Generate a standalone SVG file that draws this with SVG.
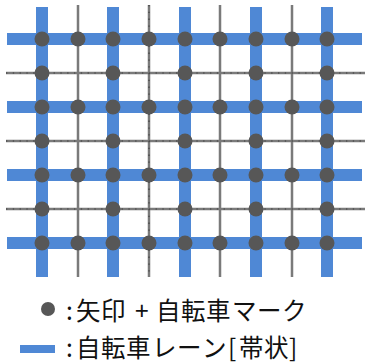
<svg xmlns="http://www.w3.org/2000/svg" width="368" height="363" viewBox="0 0 368 363">
<style>
.g{stroke:#7a7a7a;stroke-width:2.5;fill:none}
.k{stroke:#222;stroke-width:1.1;stroke-dasharray:1.3 5.5;fill:none;opacity:.7}
.b{stroke:#4f88d5;stroke-width:12;fill:none}
.d{fill:#575757}
.t{font-family:"Noto Sans CJK JP","Noto Sans",sans-serif;font-size:24.5px;fill:#111}
</style>
<rect width="368" height="363" fill="#fff"/>
<g id="gray-lines">
<path class="g" d="M78 5V277M149 5V277M220 5V277M292 5V277M6 73H365M6 141H365M6 209H365"/>
<path class="k" d="M149 5V277M6 73H365M6 141H365M6 209H365"/>
</g>
<g id="bike-lanes">
<path class="b" d="M42 7V277M113 7V277M185 7V277M256 7V277M327 7V277M7 39H362M7 107H362M7 175H362M7 243H362"/>
</g>
<g id="marks" class="d">
<g id="row39"><circle cx="42" cy="39" r="7.5"/><circle cx="78" cy="39" r="7.5"/><circle cx="113" cy="39" r="7.5"/><circle cx="149" cy="39" r="7.5"/><circle cx="185" cy="39" r="7.5"/><circle cx="220" cy="39" r="7.5"/><circle cx="256" cy="39" r="7.5"/><circle cx="292" cy="39" r="7.5"/><circle cx="327" cy="39" r="7.5"/></g>
<g id="row73"><circle cx="42" cy="73" r="7.5"/><circle cx="113" cy="73" r="7.5"/><circle cx="185" cy="73" r="7.5"/><circle cx="256" cy="73" r="7.5"/><circle cx="327" cy="73" r="7.5"/></g>
<g id="row107"><circle cx="42" cy="107" r="7.5"/><circle cx="78" cy="107" r="7.5"/><circle cx="113" cy="107" r="7.5"/><circle cx="149" cy="107" r="7.5"/><circle cx="185" cy="107" r="7.5"/><circle cx="220" cy="107" r="7.5"/><circle cx="256" cy="107" r="7.5"/><circle cx="292" cy="107" r="7.5"/><circle cx="327" cy="107" r="7.5"/></g>
<g id="row141"><circle cx="42" cy="141" r="7.5"/><circle cx="113" cy="141" r="7.5"/><circle cx="185" cy="141" r="7.5"/><circle cx="256" cy="141" r="7.5"/><circle cx="327" cy="141" r="7.5"/></g>
<g id="row175"><circle cx="42" cy="175" r="7.5"/><circle cx="78" cy="175" r="7.5"/><circle cx="113" cy="175" r="7.5"/><circle cx="149" cy="175" r="7.5"/><circle cx="185" cy="175" r="7.5"/><circle cx="220" cy="175" r="7.5"/><circle cx="256" cy="175" r="7.5"/><circle cx="292" cy="175" r="7.5"/><circle cx="327" cy="175" r="7.5"/></g>
<g id="row209"><circle cx="42" cy="209" r="7.5"/><circle cx="113" cy="209" r="7.5"/><circle cx="185" cy="209" r="7.5"/><circle cx="256" cy="209" r="7.5"/><circle cx="327" cy="209" r="7.5"/></g>
<g id="row243"><circle cx="42" cy="243" r="7.5"/><circle cx="78" cy="243" r="7.5"/><circle cx="113" cy="243" r="7.5"/><circle cx="149" cy="243" r="7.5"/><circle cx="185" cy="243" r="7.5"/><circle cx="220" cy="243" r="7.5"/><circle cx="256" cy="243" r="7.5"/><circle cx="292" cy="243" r="7.5"/><circle cx="327" cy="243" r="7.5"/></g>
</g>
<g id="legend">
<circle class="d" cx="48" cy="309" r="7"/>
<text class="t" x="66 76 101 127 135 150 156 181 206 232 257 282" y="320" xml:space="preserve">:矢印 + 自転車マーク</text>
<rect x="20" y="345" width="35" height="8" fill="#4f88d5"/>
<text class="t" x="66 76 101 126 152 177 202 228 239 264 289" y="357">:自転車レーン[帯状]</text>
</g>
</svg>
